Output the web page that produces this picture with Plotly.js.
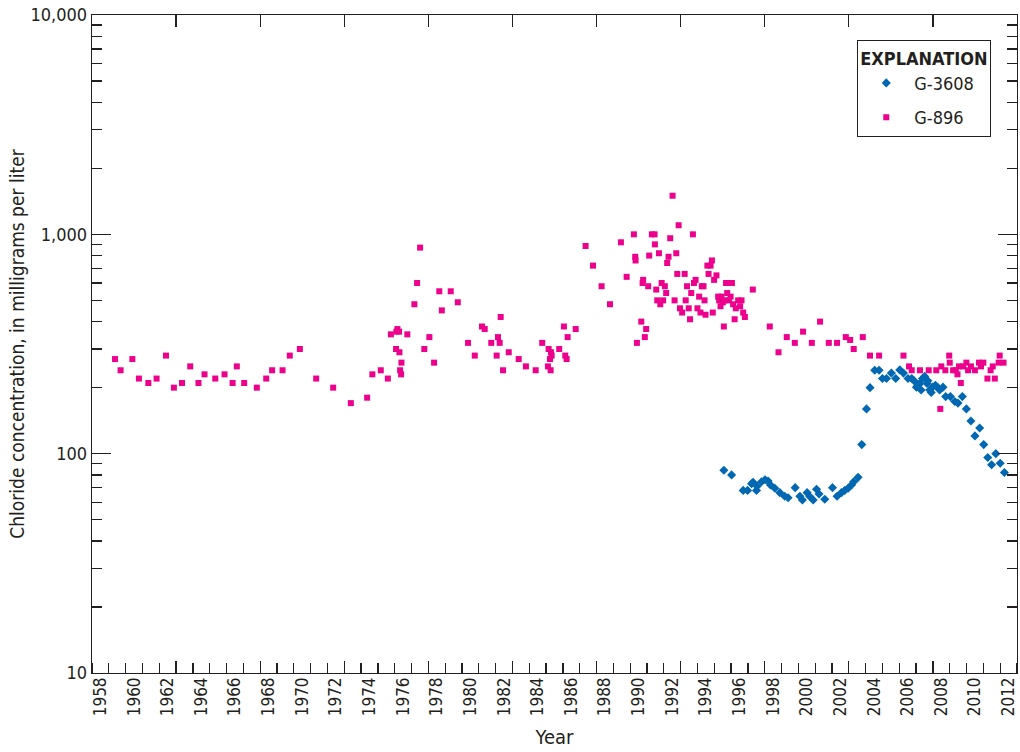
<!DOCTYPE html>
<html>
<head>
<meta charset="utf-8">
<script src="https://cdn.plot.ly/plotly-3.0.1.min.js"></script>
<style>html,body{margin:0;padding:0;background:#fff;}#chart{width:1020px;height:752px;}</style>
</head>
<body>
<div id="chart"></div>
<script>
// ---- G-896 (pink squares) ----
const g896Year1 = [1959.37,1959.70,1960.40,1960.79,1961.35,1961.84,1962.40,1962.87,1963.35,1963.84,1964.33,1964.69,1965.33,1965.88,1966.36,1966.61,1967.05,1967.80,1968.36,1968.71,1969.33,1969.76,1970.36,1971.33];
const g896Cl1   = [270,240,270,220,210,220,280,200,210,250,210,230,220,230,210,250,210,200,220,240,240,280,300,220];

const g896Year2 = [1972.34,1973.39,1974.36,1974.67,1975.17,1975.59,1975.77,1976.16,1976.10,1976.26,
                   1976.75,1976.08,1976.28,1976.40,1976.32,1976.38,1977.17,1977.33,1977.51,1977.76,
                   1978.06,1978.34,1978.65,1978.80,1979.33,1979.75,1980.36,1980.76,1981.19,1981.35,
                   1981.74,1982.14,1982.24,1982.30,1982.06,1982.44,1982.78,1983.37,1983.80,1984.38,
                   1984.77,1985.15,1985.29,1985.23,1985.11,1985.27,1985.33,1985.78,1986.06,1986.14,
                   1986.22,1986.28,1986.76];
const g896Cl2   = [200,170,180,230,240,220,350,370,360,360,
                   350,300,290,260,240,230,480,600,870,300,
                   340,260,550,450,550,490,320,280,380,370,
                   320,340,320,420,280,240,290,270,250,240,
                   320,300,290,270,250,240,280,300,380,280,
                   270,340,370];

const g896Year3 = [1987.35,1987.79,1988.30,1988.80,1989.45,1989.79,1990.22,1990.30,1990.32,1990.66,
                   1990.40,1990.87,1990.95,1990.77,1990.74,1991.07,1991.13,1991.29,1991.45,1991.47,
                   1991.55,1991.71,1991.61,1991.79,1991.87,1991.96,1992.06,1992.14,1992.20,1992.28,
                   1992.38,1992.52,1992.64,1992.74,1992.80,1992.88,1992.96,1993.09,1993.24,1993.30,
                   1993.38,1993.48,1993.56,1993.63,1993.73,1993.79,1993.89,1994.00,1994.10,1994.18,
                   1994.26,1994.36,1994.42,1994.48,1994.59,1994.66,1994.78,1994.86,1994.91,1994.99,
                   1995.13,1995.23,1995.29,1995.37,1995.43,1995.57,1995.51,1995.63,1995.70,1995.77,
                   1995.87,1995.97,1996.05,1996.12,1996.21,1996.28,1996.42,1996.54,1996.62,1996.72,
                   1996.82,1997.29];
const g896Cl3   = [885,720,580,480,920,640,1000,790,760,400,
                   320,340,370,620,600,580,800,1000,1000,900,
                   560,820,500,480,600,500,580,540,740,790,
                   960,1500,500,820,660,1100,460,440,660,500,
                   580,460,410,540,1000,600,620,460,520,440,
                   580,580,500,430,720,660,720,760,440,620,
                   650,520,500,470,520,380,490,500,600,540,
                   500,520,600,480,410,460,500,470,500,440,
                   420,560];

const g896Year4 = [1998.30,1998.82,1999.31,1999.79,2000.28,2000.80,2001.29,2001.81,2002.30,2002.82,
                   2003.08,2003.29,2003.83,2004.26,2004.80,2006.25,2006.58,2006.74,2007.23,2007.75,
                   2008.20,2008.44,2008.50,2008.74,2008.97,2009.00,2009.20,2009.36,2009.46,2009.55,
                   2009.66,2009.80,2009.99,2010.09,2010.26,2010.50,2010.74,2010.86,2011.00,2011.24,
                   2011.43,2011.56,2011.68,2011.91,2011.97,2012.20];
const g896Cl4   = [380,290,340,320,360,320,400,320,320,340,
                   330,300,340,280,280,280,250,240,240,240,
                   240,160,250,240,280,260,240,240,230,250,
                   210,250,260,240,250,240,260,250,260,220,
                   240,250,220,260,280,260];

// ---- G-3608 (blue diamonds) ----
const g3608Year = [1995.57,1996.03,1996.72,1996.98,1997.22,1997.31,1997.51,1997.55,1997.81,1998.02,
                   1998.20,1998.34,1998.60,1998.90,1999.19,1999.39,1999.81,2000.09,2000.24,2000.52,
                   2000.68,2000.88,2001.08,2001.23,2001.57,2002.03,2002.30,2002.56,2002.76,2002.96,
                   2003.16,2003.29,2003.55,2003.77,2004.05,2004.26,2004.54,2004.80,2005.00,2005.24,
                   2005.53,2005.79,2006.03,2006.25,2006.52,2006.74,2007.02,2007.22,2007.38,2007.51,
                   2007.65,2007.81,2007.97,2008.15,2008.40,2008.60,2008.76,2009.04,2009.30,2009.49,
                   2009.75,2009.99,2010.26,2010.50,2010.78,2011.02,2011.26,2011.49,2011.74,2012.00,
                   2012.25,2006.88,2007.12,2007.30,2007.70,2007.90,2008.30];
const g3608Cl   = [84,80,68,68,73,74,68,71,74.5,76,
                   75,72,69.5,66.4,64,63,70,64,61.5,66.4,
                   63.8,61.5,68.8,65.5,62,70,64,66.4,68,69.5,
                   72,74.5,78,110,160,200,240,240,220,220,
                   233,220,241,233,220,220,201,209,220,225,
                   209,195,201,205,195,201,182,182,173,170,
                   182,160,141,120.5,131,110,96,89,100,90.4,
                   82,215,205,195,215,190,200];

// ---- axis labels ----
const yTickVals = [10,100,1000,10000];
const yTickText = ['10','100','1,000','10,000'];
const xLabelYears = [];
for (let y = 1958; y <= 2012; y += 2) xLabelYears.push(y);

const FONT = 'Liberation Sans Narrow, Arial Narrow, DejaVu Sans Condensed, sans-serif';
const BLUE = '#0068b3';
const PINK = '#ec008c';

const g896Year = g896Year1.concat(g896Year2, g896Year3, g896Year4);
const g896Cl = g896Cl1.concat(g896Cl2, g896Cl3, g896Cl4);

const yMinor = [];
[10,100,1000].forEach(d => { for (let k = 2; k <= 9; k++) yMinor.push(k*d); });
const xMinor = [];
for (let y = 1958; y <= 2013; y++) xMinor.push(y);
const xMajor = [];
for (let y = 1963; y <= 2013; y += 5) xMajor.push(y);

const traces = [
  {x: g3608Year, y: g3608Cl, type: 'scatter', mode: 'markers', name: 'G-3608',
   legendgroup: 'a', legendrank: 1,
   marker: {symbol: 'diamond', size: 7, color: BLUE}},
  {x: g896Year, y: g896Cl, type: 'scatter', mode: 'markers', name: 'G-896',
   legendgroup: 'b', legendrank: 2,
   marker: {symbol: 'square', size: 6, color: PINK}},
  // empty helper trace so the label axis (x2) is drawn
  {x: [null], y: [null], xaxis: 'x2', yaxis: 'y', type: 'scatter', mode: 'markers',
   showlegend: false, hoverinfo: 'skip'}
];

const layout = {
  width: 1020, height: 752,
  margin: {l: 92, r: 3, t: 15, b: 79},
  paper_bgcolor: '#fff', plot_bgcolor: '#fff',
  font: {family: FONT, size: 17, color: '#231f20'},
  showlegend: true,
  xaxis: {
    range: [1958, 2013], showgrid: false, zeroline: false,
    showline: true, linecolor: '#231f20', linewidth: 1.3, mirror: 'ticks',
    tickmode: 'array', tickvals: xMajor, ticks: 'inside', ticklen: 12, tickwidth: 1.2, tickcolor: '#231f20',
    showticklabels: false
  },
  xaxis2: {
    overlaying: 'x', anchor: 'y', side: 'bottom', range: [1958, 2013],
    showgrid: false, zeroline: false, showline: false, ticks: '',
    automargin: true,
    tickmode: 'array', tickvals: xLabelYears.map(v => v + 0.5), ticktext: xLabelYears.map(String),
    tickangle: -90, tickfont: {family: FONT, size: 17, color: '#231f20'},
    minor: {tickmode: 'array', tickvals: xMinor, ticks: 'inside', ticklen: 10, tickwidth: 1.2, tickcolor: '#231f20'},
    title: {text: 'Year', font: {family: FONT, size: 20, color: '#231f20'}, standoff: 14}
  },
  yaxis: {
    type: 'log', range: [1, 4], showgrid: false, zeroline: false,
    showline: true, linecolor: '#231f20', linewidth: 1.3, mirror: 'ticks',
    automargin: true,
    tickmode: 'array', tickvals: yTickVals, ticktext: yTickText,
    ticks: 'inside', ticklen: 19, tickwidth: 1.2, tickcolor: '#231f20',
    tickfont: {family: FONT, size: 18, color: '#231f20'},
    minor: {tickmode: 'array', tickvals: yMinor, ticks: 'inside', ticklen: 10, tickwidth: 1.2, tickcolor: '#231f20'},
    title: {text: 'Chloride concentration, in milligrams per liter', font: {family: FONT, size: 19, color: '#231f20'}, standoff: 0}
  },
  legend: {
    x: 0.827, y: 0.962, xanchor: 'left', yanchor: 'top',
    bgcolor: '#fff', bordercolor: '#231f20', borderwidth: 1.3,
    traceorder: 'grouped', tracegroupgap: 8, itemwidth: 46,
    font: {family: FONT, size: 18, color: '#231f20'},
    title: {text: '<b>EXPLANATION</b>', side: 'top center', font: {family: FONT, size: 18, color: '#231f20'}}
  }
};

Plotly.newPlot('chart', traces, layout, {displayModeBar: false, staticPlot: true});
</script>
</body>
</html>
